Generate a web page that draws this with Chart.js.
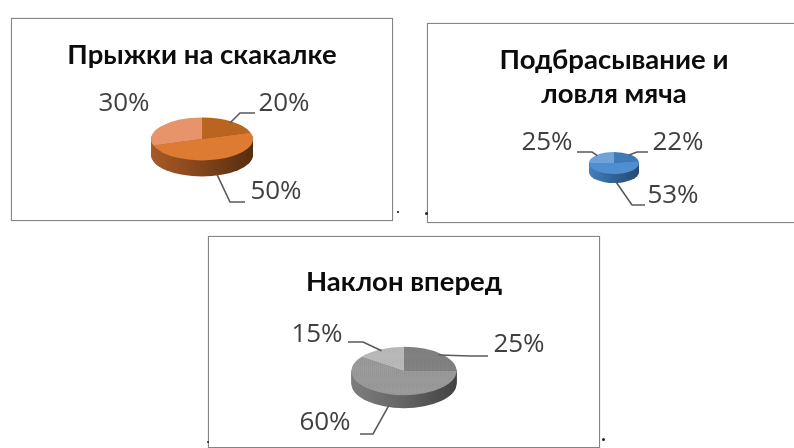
<!DOCTYPE html>
<html lang="ru">
<head>
<meta charset="utf-8">
<title>Результаты упражнений</title>
<script src="https://cdn.jsdelivr.net/npm/chart.js@4/dist/chart.umd.min.js"></script>
<style>
  html, body { margin: 0; padding: 0; width: 794px; height: 448px; background: #fff; overflow: hidden; }
  canvas, .frame, .speck { position: absolute; display: block; }
  .frame { box-sizing: border-box; border: 1px solid #858585; box-shadow: 0 0 1px #b0b0b0; }
  .speck { background: #222; border-radius: 50%; }
</style>
</head>
<body>
<script>
// Values per exercise, in percent, clockwise from the top of each pie
const jumpTitle = ['Прыжки на скакалке'];
const jumpValues = [20, 50, 30];
const tossTitle = ['Подбрасывание и', 'ловля мяча'];
const tossValues = [22, 53, 25];
const bendTitle = ['Наклон вперед'];
const bendValues = [25, 60, 15];

// Slice and rim colours
const jumpColors = ['#b9651f', '#dd7b32', '#e8946b'];
const jumpRim = ['#a85a26', '#82441a', '#562d0f'];
const tossColors = ['#3f7ab8', '#4f8ed0', '#6fa3d8'];
const tossRim = ['#4480bd', '#2e6296', '#234a72'];
const bendColors = ['#818181', '#9a9a9a', '#b9b9b9'];
const bendRim = ['#7d7d7d', '#646464', '#424242'];

// A faint dotted fill for the grey pie
function dotted(base, dot) {
  const tile = document.createElement('canvas');
  tile.width = tile.height = 4;
  const c = tile.getContext('2d');
  c.fillStyle = base;
  c.fillRect(0, 0, 4, 4);
  c.fillStyle = dot;
  c.fillRect(0, 0, 1, 1);
  c.fillRect(2, 2, 1, 1);
  return c.createPattern(tile, 'repeat');
}

// Tilted pie: squashes the library's arcs and extrudes a rim beneath them
const tiltedPie = {
  id: 'tiltedPie',
  beforeDatasetsDraw(chart, args, o) {
    const ctx = chart.ctx;
    const el = chart.getDatasetMeta(0).data[0];
    const { x, y, outerRadius: r } = el;
    ctx.save();
    ctx.translate(x, y);
    ctx.scale(1, o.squash);
    ctx.translate(-x, -y);
    const g = ctx.createLinearGradient(x - r, 0, x + r, 0);
    o.rim.forEach((col, i) => g.addColorStop(i / (o.rim.length - 1), col));
    ctx.fillStyle = g;
    for (let d = o.depth; d > 0; d--) {
      ctx.beginPath();
      ctx.arc(x, y + d / o.squash, r, 0, Math.PI * 2);
      ctx.fill();
    }
  },
  afterDatasetsDraw(chart, args, o) {
    const ctx = chart.ctx;
    ctx.restore();
    const values = chart.data.datasets[0].data;
    chart.getDatasetMeta(0).data.forEach((el, i) => {
      const mid = (el.startAngle + el.endAngle) / 2;
      const sy = Math.sin(mid);
      const leader = o.leaders[i];
      if (leader) {
        ctx.beginPath();
        ctx.moveTo(el.x + el.outerRadius * 0.94 * Math.cos(mid),
                   el.y + el.outerRadius * 0.94 * o.squash * sy + (sy > 0 ? o.depth : 0));
        leader.forEach(p => ctx.lineTo(p[0], p[1]));
        ctx.strokeStyle = '#5a5a5a';
        ctx.lineWidth = 1.6;
        ctx.stroke();
      }
      ctx.fillStyle = '#404040';
      ctx.font = '26px "Open Sans"';
      ctx.textAlign = 'center';
      ctx.textBaseline = 'middle';
      ctx.fillText(values[i] + '%', o.labelAt[i][0], o.labelAt[i][1]);
    });
  }
};

const TITLE_SIZE = 27.5;
const TITLE_LINE = 1.24;

// Builds one framed panel; coordinates in `place` are relative to the panel's canvas
function panel(place, lines, values, colors, pie) {
  const frame = document.createElement('div');
  frame.className = 'frame';
  Object.assign(frame.style, {
    left: place.left + 'px', top: place.top + 'px',
    width: place.width + 'px', height: place.height + 'px'
  });
  document.body.appendChild(frame);

  const canvas = document.createElement('canvas');
  canvas.width = place.width;
  canvas.height = place.height;
  canvas.style.left = place.left + 'px';
  canvas.style.top = place.top + 'px';
  document.body.appendChild(canvas);

  const titleHeight = place.titleTop + lines.length * TITLE_SIZE * TITLE_LINE;
  new Chart(canvas, {
    type: 'pie',
    data: {
      labels: values.map(v => v + '%'),
      datasets: [{ data: values, backgroundColor: colors, borderWidth: 0, clip: false }]
    },
    plugins: [tiltedPie],
    options: {
      responsive: false,
      animation: false,
      radius: pie.radius,
      layout: { padding: { top: 0, left: 0, right: 0, bottom: titleHeight + place.height - 2 * pie.centerY } },
      plugins: {
        legend: { display: false },
        tooltip: { enabled: false },
        title: {
          display: true,
          text: lines,
          color: '#0c0c0c',
          padding: { top: place.titleTop, bottom: 0 },
          font: { family: 'Lato, "Open Sans"', size: TITLE_SIZE, weight: 'bold', lineHeight: TITLE_LINE }
        },
        tiltedPie: {
          squash: pie.squash,
          depth: pie.depth,
          rim: pie.rim,
          leaders: pie.leaders,
          labelAt: pie.labelAt
        }
      }
    }
  });
}

panel({ left: 11, top: 18, width: 382, height: 203, titleTop: 20 }, jumpTitle, jumpValues, jumpColors, {
  radius: 51, centerY: 121, squash: 0.42, depth: 16, rim: jumpRim,
  leaders: [[[229, 95], [244, 95]], [[219, 184], [234, 184]], null],
  labelAt: [[273, 86], [265, 174], [113, 86]]
});

panel({ left: 427, top: 23, width: 374, height: 200, titleTop: 20 }, tossTitle, tossValues, tossColors, {
  radius: 25, centerY: 140, squash: 0.44, depth: 9, rim: tossRim,
  leaders: [[[210, 129], [221, 129]], [[205, 182], [218, 182]], [[165, 129], [150, 129]]],
  labelAt: [[251, 120], [246, 173], [120, 120]]
});

panel({ left: 208, top: 236, width: 392, height: 212, titleTop: 29 }, bendTitle, bendValues, bendColors.map((c, i) => dotted(c, ['#787878', '#8d8d8d', '#adadad'][i])), {
  radius: 52.5, centerY: 135, squash: 0.46, depth: 13, rim: bendRim,
  leaders: [[[262, 120], [280, 120]], [[165, 198], [152, 198]], [[155, 106], [140, 106]]],
  labelAt: [[311, 109], [117, 187], [109, 99]]
});

// Small marks in the gaps between the frames
[[397, 211, 1.5], [425, 212, 3], [207, 441, 2], [602, 438, 3]].forEach(([x, y, size]) => {
  const s = document.createElement('div');
  s.className = 'speck';
  Object.assign(s.style, { left: x + 'px', top: y + 'px', width: size + 'px', height: size + 'px' });
  document.body.appendChild(s);
});
</script>
</body>
</html>
